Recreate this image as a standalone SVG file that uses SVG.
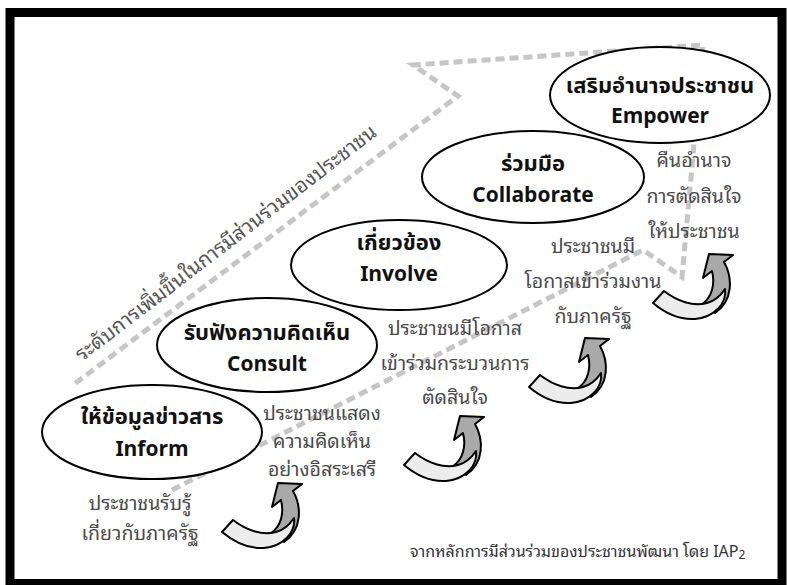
<svg xmlns="http://www.w3.org/2000/svg" xmlns:xlink="http://www.w3.org/1999/xlink" width="787" height="585" viewBox="0 0 787 585">
<style>
.frame{fill:#fff;stroke:#000;stroke-width:9}
.band{fill:none;stroke:#c6c6c6;stroke-width:5;stroke-dasharray:9 5}
.node ellipse{fill:#fff;stroke:#000;stroke-width:2}
.title{font-family:"Noto Sans Thai","Noto Sans","Liberation Sans",sans-serif;font-weight:bold;font-size:21px;fill:#111;text-anchor:middle}
.th{font-size:22px}
.desc{font-family:"Noto Sans Thai Looped","Noto Sans Thai","Noto Sans","Liberation Sans",sans-serif;font-size:19.5px;fill:#4a4a4a;text-anchor:middle}
.axis{font-family:"Noto Sans Thai Looped","Noto Sans Thai","Noto Sans","Liberation Sans",sans-serif;font-size:20.5px;fill:#555}
.foot{font-family:"Noto Sans Thai Looped","Noto Sans Thai","Noto Sans","Liberation Sans",sans-serif;font-size:16px;fill:#333}
.back{fill:#a9a9a9;stroke:#000;stroke-width:2;stroke-linejoin:round}
.front{fill:#ececec;stroke:#000;stroke-width:2;stroke-linejoin:round}
</style>
<defs>
<g id="curl">
<path class="back" d="M59,18 L50,25 L56,1 L80,2 L71,9 C80,25 80,48 62,60 L48,52 C60,44 62,30 59,18 Z"/>
<path class="front" d="M0,50 L11,38 C24,48 40,54 54,50 C62,48 68,42 72,36 C74,50 62,64 42,66 C26,67 12,60 0,50 Z"/>
</g>
</defs>
<rect class="frame" x="10" y="12.5" width="772" height="571"/>
<path class="band" d="M172,490 L643,250 L682,277 L703,45 L413,65 L458,96 L73,385"/>
<text class="axis" transform="translate(82,362) rotate(-37.5)">ระดับการเพิ่มขึ้นในการมีส่วนร่วมของประชาชน</text>
<g id="n-empower" class="node">
<ellipse cx="660" cy="95" rx="110" ry="48"/>
<text class="title th" x="660" y="93">เสริมอำนาจประชาชน</text>
<text class="title" x="660" y="123">Empower</text>
</g>
<g id="n-collaborate" class="node">
<ellipse cx="533" cy="177" rx="111" ry="46"/>
<text class="title th" x="533" y="171">ร่วมมือ</text>
<text class="title" x="533" y="202">Collaborate</text>
</g>
<g id="n-involve" class="node">
<ellipse cx="399" cy="265" rx="108" ry="45"/>
<text class="title th" x="399" y="250">เกี่ยวข้อง</text>
<text class="title" x="399" y="281">Involve</text>
</g>
<g id="n-consult" class="node">
<ellipse cx="267" cy="345" rx="110" ry="47"/>
<text class="title th" x="267" y="340">รับฟังความคิดเห็น</text>
<text class="title" x="267" y="371">Consult</text>
</g>
<g id="n-inform" class="node">
<ellipse cx="152" cy="432" rx="110" ry="47"/>
<text class="title th" x="152" y="424">ให้ข้อมูลข่าวสาร</text>
<text class="title" x="152" y="456">Inform</text>
</g>
<g id="d-inform">
<text class="desc" x="140" y="510">ประชาชนรับรู้</text>
<text class="desc" x="140" y="540">เกี่ยวกับภาครัฐ</text>
</g>
<g id="d-consult">
<text class="desc" x="322" y="420">ประชาชนแสดง</text>
<text class="desc" x="322" y="448">ความคิดเห็น</text>
<text class="desc" x="322" y="476">อย่างอิสระเสรี</text>
</g>
<g id="d-involve">
<text class="desc" x="455" y="335">ประชาชนมีโอกาส</text>
<text class="desc" x="455" y="370">เข้าร่วมกระบวนการ</text>
<text class="desc" x="455" y="404">ตัดสินใจ</text>
</g>
<g id="d-collaborate">
<text class="desc" x="593" y="253">ประชาชนมี</text>
<text class="desc" x="593" y="288">โอกาสเข้าร่วมงาน</text>
<text class="desc" x="593" y="323">กับภาครัฐ</text>
</g>
<g id="d-empower">
<text class="desc" x="694" y="167">คืนอำนาจ</text>
<text class="desc" x="694" y="203">การตัดสินใจ</text>
<text class="desc" x="694" y="238">ให้ประชาชน</text>
</g>
<g id="connectors">
<use xlink:href="#curl" href="#curl" transform="translate(222,482)"/>
<use xlink:href="#curl" href="#curl" transform="translate(404,415)"/>
<use xlink:href="#curl" href="#curl" transform="translate(529,337)"/>
<use xlink:href="#curl" href="#curl" transform="translate(653,253)"/>
</g>
<text class="foot" x="410" y="557">จากหลักการมีส่วนร่วมของประชาชนพัฒนา โดย IAP<tspan font-size="12" dy="2">2</tspan></text>
</svg>
